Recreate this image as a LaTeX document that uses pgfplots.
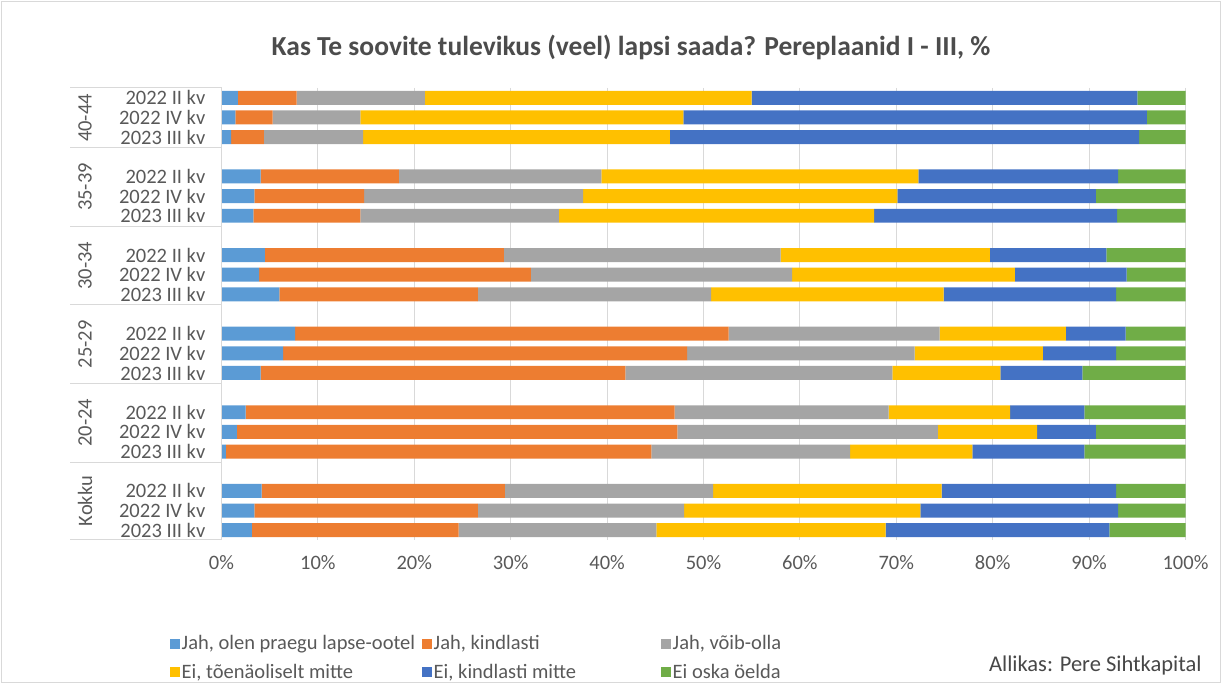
\documentclass[border=0pt]{standalone}
\usepackage{pgfplots}
\pgfplotsset{compat=1.18}
\usepackage{pgfplotstable}
\usepackage{fontspec}
\setmainfont{Carlito}
\definecolor{cA}{HTML}{5B9BD5}
\definecolor{cB}{HTML}{ED7D31}
\definecolor{cC}{HTML}{A5A5A5}
\definecolor{cD}{HTML}{FFC000}
\definecolor{cE}{HTML}{4472C4}
\definecolor{cF}{HTML}{70AD47}
\definecolor{gridc}{HTML}{D9D9D9}
\definecolor{txt}{HTML}{595959}
\pgfplotstableread{
y a b c d e f
0 1.7 6.1 13.3 33.9 40.0 5.0
1 1.45 3.85 9.1 33.5 48.1 4.0
2 1.0 3.4 10.3 31.8 48.7 4.8
4 4.05 14.35 21.0 32.9 20.7 7.0
5 3.4 11.4 22.7 32.6 20.6 9.3
6 3.3 11.1 20.6 32.7 25.2 7.1
8 4.5 24.8 28.7 21.7 12.1 8.2
9 3.9 28.2 27.1 23.1 11.6 6.1
10 6.0 20.6 24.2 24.1 17.9 7.2
12 7.65 44.95 21.9 13.1 6.2 6.2
13 6.4 41.9 23.6 13.3 7.6 7.2
14 4.05 37.85 27.7 11.2 8.5 10.7
16 2.5 44.5 22.2 12.6 7.7 10.5
17 1.6 45.7 27.0 10.3 6.1 9.3
18 0.45 44.15 20.6 12.7 11.6 10.5
20 4.15 25.25 21.6 23.7 18.1 7.2
21 3.4 23.2 21.4 24.5 20.5 7.0
22 3.15 21.45 20.5 23.8 23.2 7.9
}\datatable
\begin{document}
\begin{tikzpicture}[x=1pt,y=1pt]
\path[use as bounding box] (0,0) rectangle (1222,684);
\draw[gridc] (1.5,1.5) rectangle (1220.5,682.5);
\node[font=\fontsize{27.5}{32}\selectfont\bfseries, text=txt!85!black] at (631,637) {Kas Te soovite tulevikus (veel) lapsi saada? Pereplaanid I - III, \%};
\begin{axis}[
  at={(221.5pt,144pt)}, anchor=south west,
  scale only axis, width=964pt, height=452pt,
  xbar stacked, bar width=0.71,
  y dir=reverse,
  xmin=0, xmax=100, ymin=-0.5, ymax=22.5,
  xtick={0,10,...,100},
  xticklabels={0\%,10\%,20\%,30\%,40\%,50\%,60\%,70\%,80\%,90\%,100\%},
  ytick={0,1,2,4,5,6,8,9,10,12,13,14,16,17,18,20,21,22},
  yticklabels={2022 II kv,2022 IV kv,2023 III kv,2022 II kv,2022 IV kv,2023 III kv,2022 II kv,2022 IV kv,2023 III kv,2022 II kv,2022 IV kv,2023 III kv,2022 II kv,2022 IV kv,2023 III kv,2022 II kv,2022 IV kv,2023 III kv},
  xmajorgrids, grid style={gridc, line width=1pt},
  major tick length=0pt,
  axis line style={draw=none},
  tick label style={font=\fontsize{20.5}{23}\selectfont, text=txt},
  yticklabel style={inner sep=0pt, xshift=-16pt},
  xticklabel style={inner sep=0pt, yshift=-15pt},
  legend columns=3,
  legend style={at={(-0.0534,-0.208)}, anchor=north west, draw=none, fill=none,
     inner sep=0pt, row sep=10pt, font=\fontsize{20.5}{23}\selectfont, text=txt,
     nodes={inner sep=1.5pt}},
  legend cell align=left,
  legend image code/.code={\fill[#1] (0pt,-5pt) rectangle (10pt,5pt);},
]
\addplot[fill=cA, draw=none] table[x=a,y=y] {\datatable};
\addplot[fill=cB, draw=none] table[x=b,y=y] {\datatable};
\addplot[fill=cC, draw=none] table[x=c,y=y] {\datatable};
\addplot[fill=cD, draw=none] table[x=d,y=y] {\datatable};
\addplot[fill=cE, draw=none] table[x=e,y=y] {\datatable};
\addplot[fill=cF, draw=none] table[x=f,y=y] {\datatable};
\legend{{\makebox[239pt][l]{Jah, olen praegu lapse-ootel}},{\makebox[226pt][l]{Jah, kindlasti}},{Jah, võib-olla},{\makebox[239pt][l]{Ei, tõenäoliselt mitte}},{\makebox[226pt][l]{Ei, kindlasti mitte}},{Ei oska öelda}}
\end{axis}
\draw[gridc, line width=1pt] (221.5,144) -- (221.5,596);
\foreach \yy in {88,147.7,226.3,304.9,383.5,462.1,540} {
  \draw[gridc, line width=1pt] (70,684-\yy) -- (221.5,684-\yy);
}
\foreach \yy/\lab in {118/40-44,187/35-39,265.6/30-34,344.2/25-29,422.8/20-24,501/Kokku} {
  \node[rotate=90, font=\fontsize{20.5}{23}\selectfont, text=txt] at (85,684-\yy) {\lab};
}
\node[anchor=east, font=\fontsize{22.5}{26}\selectfont, text=txt!80!black] at (1205,18) {Allikas: Pere Sihtkapital};
\end{tikzpicture}
\end{document}
